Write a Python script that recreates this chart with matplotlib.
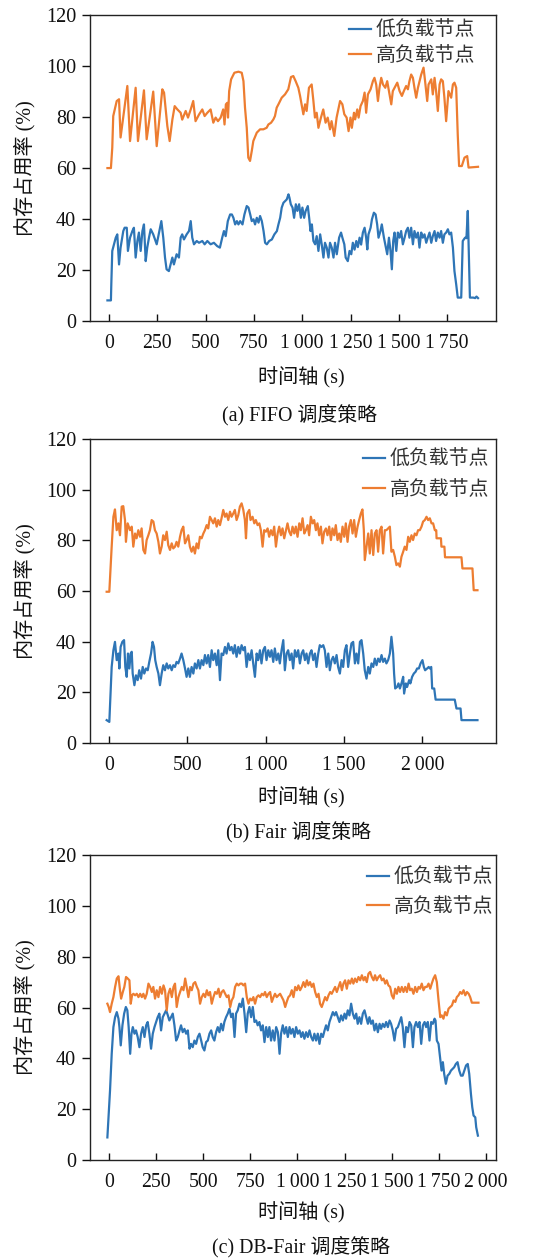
import matplotlib
matplotlib.use('Agg')
import matplotlib.pyplot as plt
from matplotlib.font_manager import FontProperties

plt.rcParams['font.family'] = ['Liberation Serif', 'Noto Sans CJK SC', 'DejaVu Sans']

BLUE = '#2E75B6'
ORANGE = '#ED7D31'

legend_labels = ['低负载节点', '高负载节点']
y_ticks = [0, 20, 40, 60, 80, 100, 120]
ylabel_text = '内存占用率 (%)'
xlabel_text = '时间轴 (s)'
captions = ['(a) FIFO 调度策略', '(b) Fair 调度策略', '(c) DB-Fair 调度策略']

xticks_a = [0, 250, 500, 750, 1000, 1250, 1500, 1750]
xticklabels_a = ['0', '250', '500', '750', '1\u2009000', '1\u2009250', '1\u2009500', '1\u2009750']
xticks_b = [0, 500, 1000, 1500, 2000]
xticklabels_b = ['0', '500', '1\u2009000', '1\u2009500', '2\u2009000']
xticks_c = [0, 250, 500, 750, 1000, 1250, 1500, 1750, 2000]
xticklabels_c = ['0', '250', '500', '750', '1\u2009000', '1\u2009250', '1\u2009500', '1\u2009750', '2\u2009000']

# ---------------- (a) FIFO ----------------
fifo_high = [(-8,60),(10,60),(17,68),(22,80.4),(40,86.3),(52,87),(60,72),(95,92.2),(109,70.6),(138,91.5),
 (150,70.6),(181,90.5),(195,71.3),(229,90),(247,68.6),(276,90.9),(285,89.6),(302,76.5),(314,70.6),(328,79),
 (340,84.3),(354,83),(371,81.7),(379,79),(397,82.4),(409,79.8),(423,83),(436,86.3),(448,78.4),(466,81),
 (483,83),(495,80.4),(509,81.7),(526,83),(540,77.8),(552,79.8),(564,78.4),(578,79.8),(591,83),(598,77.1),
 (605,85),(612,85.6),(616,79.8),(622,90.2),(632,94.8),(649,97.4),(670,97.8),(687,97.4),(696,94.1),(704,83.7),
 (713,75.8),(721,64.1),(730,62.8),(739,66.7),(747,70.6),(765,73.9),(782,75.2),(799,75.2),(816,75.8),(825,77.1),
 (839,77.8),(851,79.1),(859,80.4),(868,83.7),(877,85),(894,87.6),(911,88.9),(928,90.9),(942,95.7),(954,96.1),
 (966,94.1),(980,91.5),(989,88.3),(997,85),(1006,81.1),(1015,85),(1023,82.4),(1035,91.5),(1049,92.8),(1058,86.3),
 (1066,79.8),(1075,81.7),(1084,75.8),(1097,79.8),(1109,83),(1121,77.8),(1132,79.8),(1144,75.2),(1152,78.4),(1166,72.6),
 (1178,79.8),(1196,86.3),(1208,85),(1218,81.1),(1230,79.8),(1240,74.5),(1250,79.8),(1257,75.8),(1268,81.7),(1274,79.1),
 (1285,83),(1292,79.8),(1302,84.3),(1314,86.3),(1323,89.6),(1331,81.7),(1340,88.9),(1354,90.9),(1366,94.1),(1374,95.4),
 (1383,92.8),(1392,86.3),(1400,91.5),(1409,95.4),(1418,92.8),(1430,91.5),(1440,94.1),(1452,88.9),(1461,85),(1469,90.2),
 (1478,91.5),(1492,93.5),(1504,90.2),(1516,88.3),(1526,90.2),(1538,92.2),(1547,90.9),(1555,94.1),(1564,96.7),(1573,95.4),
 (1581,91.5),(1590,87.6),(1599,91.5),(1616,96.7),(1628,99.4),(1636,94.1),(1647,86.3),(1654,92.8),(1668,94.8),(1676,88.9),
 (1685,95.4),(1693,90.2),(1702,82.4),(1711,92.8),(1719,94.8),(1728,94.1),(1736,87.6),(1745,78.4),(1757,90.2),(1771,87.6),
 (1780,92.8),(1788,93.5),(1797,91.5),(1805,73.2),(1812,60.8),(1826,60.8),(1840,64.1),(1854,64.7),(1861,60.2),(1910,60.5)]

fifo_low = [(-8,8.1),(10,8.1),(12,14.4),(17,27.5),(26,30.1),(35,32.7),(43,34),(52,22.2),(60,28.8),(74,35.3),
 (81,36.6),(92,36.6),(98,27.5),(109,32.7),(121,35.3),(129,36.6),(138,24.9),(147,31.4),(155,34.7),(164,27.5),
 (173,35.3),(181,37.9),(190,23.5),(198,28.8),(207,32.7),(216,36),(229,34),(238,32),(247,30.1),(259,34.7),
 (271,39.2),(281,32.7),(290,24.9),(298,20.3),(310,19.6),(319,22.2),(328,24.9),(336,22.2),(350,26.2),(362,24.9),
 (371,32.7),(379,34),(388,32),(402,34),(414,35.3),(423,39.2),(431,32.7),(440,30.1),(454,31.4),(466,30.7),
 (483,31.4),(495,30.1),(509,31.4),(526,30.1),(543,30.7),(560,29.4),(574,28.8),(586,32.7),(595,35.3),(604,33.3),
 (615,39.2),(627,41.8),(636,41.8),(644,40.5),(653,37.9),(662,39.2),(670,37.9),(679,39.2),(691,37.9),(701,41.8),
 (713,45.1),(722,44.5),(731,41.8),(739,39.2),(748,39.9),(756,37.9),(765,40.5),(774,38.6),(782,41.2),(791,39.2),
 (800,35.3),(808,30.7),(817,30.1),(829,31.4),(843,32),(856,34),(869,35.3),(877,37.9),(886,40.5),(894,44.5),
 (903,46.4),(912,47.1),(920,47.7),(929,49.7),(934,48.4),(941,45.8),(950,44.5),(958,40.5),(967,45.8),(975,43.2),
 (984,45.8),(993,40.5),(1001,44.5),(1010,40.5),(1018,43.2),(1029,45.1),(1036,40.5),(1043,35.3),(1050,37.9),(1058,31.4),
 (1067,30.1),(1075,33.3),(1084,27.5),(1093,34),(1101,30.1),(1110,24.9),(1118,30.7),(1127,28.8),(1136,24.9),(1144,30.7),
 (1153,28.8),(1162,24.9),(1170,30.7),(1179,26.2),(1191,32.7),(1201,34.7),(1208,32.7),(1218,30.1),(1225,24.9),(1236,23.5),
 (1245,27.5),(1254,26.2),(1262,30.7),(1271,28),(1280,31.4),(1288,29),(1297,32.7),(1305,30),(1314,34.7),(1323,36.6),
 (1331,32.7),(1337,28.1),(1343,34),(1354,36.6),(1361,39.9),(1371,42.5),(1380,41.8),(1388,37.9),(1395,32.7),(1405,35.3),
 (1412,37.9),(1423,32.7),(1430,30.1),(1440,26.2),(1449,32.7),(1457,27.5),(1464,20.3),(1471,31.4),(1478,34.7),(1487,27.5),
 (1495,34.7),(1504,32.7),(1512,35.3),(1521,30.1),(1530,32.7),(1538,35.3),(1547,36.6),(1555,32.7),(1564,36.6),(1573,30.1),
 (1581,35.3),(1590,32.7),(1599,34.7),(1607,28.8),(1616,34.7),(1624,32.7),(1633,34),(1642,30.7),(1650,32.7),(1659,34.7),
 (1668,30.7),(1676,33.3),(1685,35.3),(1693,31.4),(1702,34.7),(1711,32.7),(1719,35.3),(1728,30.7),(1736,34),(1745,34.7),
 (1754,36),(1762,34),(1771,34.7),(1780,28.8),(1788,19.6),(1797,14.4),(1805,9.2),(1823,9.2),(1831,31.4),(1843,32.7),
 (1850,32.5),(1857,43.2),(1862,27.5),(1868,9.2),(1885,9.2),(1895,9),(1902,9.6),(1910,9)]

# ---------------- (b) Fair ----------------
fair_high = [(-15,59.7),(2,59.7),(17,77.5),(28,89.3),(38,92.2),(49,84),(60,86.7),(70,82),(81,93.3),(91,93.5),
 (102,88),(108,79.4),(119,86.7),(134,84),(145,85.4),(155,77.5),(166,82.7),(176,80.8),(187,84),(198,81.4),
 (208,84.7),(219,76.2),(230,74.8),(240,80.1),(251,82),(261,84),(272,88),(283,87.4),(293,84),(304,82.7),
 (315,79.4),(325,74.8),(336,77.5),(346,82),(357,80.1),(368,83.4),(378,78.1),(389,76.2),(400,78.8),(410,76.8),
 (421,77.5),(431,79.4),(442,77.5),(453,81.4),(463,84),(474,85.4),(485,78.8),(495,80.1),(506,82),(516,77.5),
 (527,75.5),(538,77.5),(548,74.8),(559,78.8),(570,76.8),(580,81.4),(591,80.8),(602,82.7),(612,84),(623,86),
 (633,84.7),(644,89.3),(655,88),(665,86.7),(676,88.7),(687,85.4),(697,88),(708,86),(718,88.7),(729,92),
 (740,89.3),(750,90.6),(761,88),(772,91.3),(782,89.3),(793,90.6),(803,92),(814,88),(825,90),(835,93.3),
 (846,94.6),(857,92),(867,88),(874,80.8),(882,90.6),(895,92),(903,88),(916,89.3),(927,86.7),(937,88),
 (948,86),(959,86.7),(969,84),(980,77.5),(990,84),(1001,83.4),(1012,84.7),(1022,81.4),(1033,84),(1044,82),
 (1054,85.4),(1065,77.5),(1076,82.7),(1086,85.4),(1097,82),(1107,84.7),(1118,80.8),(1129,84),(1139,86.7),(1150,83.4),
 (1161,82),(1171,85.4),(1182,82.7),(1192,85.4),(1203,81.4),(1214,86.7),(1224,84),(1235,88.7),(1246,82.7),(1256,84),
 (1267,86),(1277,82),(1288,89.3),(1299,86.7),(1309,88),(1320,84),(1330,86.7),(1341,82),(1352,85.4),(1362,78.8),
 (1373,83.4),(1384,84.7),(1394,82),(1405,85.4),(1416,80.1),(1426,84.7),(1437,82),(1447,86),(1458,80.1),(1469,82.7),
 (1479,79.4),(1490,85.4),(1501,81.4),(1511,86.7),(1522,79.4),(1532,85.4),(1543,88),(1554,82.7),(1564,88),(1575,81.4),
 (1586,85.4),(1596,88),(1607,90.6),(1617,92.2),(1626,84),(1632,72.2),(1643,77.5),(1654,82.7),(1664,74.8),(1675,84),
 (1686,74.2),(1696,82.7),(1707,84),(1717,75.5),(1728,84),(1739,85.4),(1749,74.8),(1760,84),(1770,84),(1781,84.7),
 (1792,85.4),(1802,75.5),(1813,76.2),(1824,73.5),(1834,70.2),(1845,70.9),(1856,69.6),(1866,73.5),(1877,75.5),(1887,77.5),
 (1898,76.2),(1909,81.4),(1919,79.4),(1930,82),(1940,80.1),(1951,82.7),(1962,82),(1972,84),(1983,84),(1994,85.4),
 (2004,87.4),(2015,88),(2026,89.3),(2036,88),(2047,88.7),(2058,86.7),(2068,86.7),(2079,84),(2088,84),(2090,80.8),
 (2118,80.8),(2121,77.5),(2140,77.5),(2144,73.3),(2249,73.3),(2255,68.9),(2319,68.9),(2327,60.3),(2351,60.3)]

fair_low = [(-15,9),(2,8.3),(17,30),(28,36.6),(38,39.9),(49,32.7),(60,35.3),(66,29.4),(74,37.9),(85,39.9),
 (96,40.6),(104,30),(113,26.1),(121,35.3),(130,29.4),(138,35.3),(145,36),(151,27.4),(162,22.8),(172,26.7),
 (183,24.8),(193,28.7),(204,25.4),(215,30),(225,27.4),(236,29.4),(247,28.7),(257,32),(268,35.3),(278,39.9),
 (287,37.9),(295,32.7),(304,30),(315,27.4),(325,22.8),(336,27.4),(346,30.7),(357,28.7),(368,31.4),(378,29.4),
 (389,30.7),(400,28.7),(410,30.7),(421,30),(431,32),(442,31.4),(453,33.3),(463,35.3),(474,32.7),(485,29.4),
 (495,26.1),(506,29.4),(516,26.1),(527,30),(538,27.4),(548,31.4),(559,29.4),(570,32.7),(580,29.4),(591,32.7),
 (602,30.7),(612,34.7),(623,31.4),(633,34.7),(644,30),(655,36.6),(665,32.7),(676,35.3),(687,30.7),(697,36.6),
 (708,24.8),(718,35.3),(729,34.7),(740,37.9),(750,35.3),(761,39.3),(772,36.6),(782,37.9),(793,35.3),(803,38.6),
 (814,34),(825,37.9),(835,35.3),(846,38.6),(857,36.6),(867,37.9),(878,30),(888,35.3),(899,32.7),(910,36.6),
 (920,31.4),(931,26.1),(942,35.3),(952,32.7),(963,36.6),(973,31.4),(984,36.6),(995,37.9),(1005,32.7),(1016,36.6),
 (1027,34),(1037,36.6),(1048,32),(1058,37.3),(1069,32.7),(1080,35.3),(1090,31.4),(1101,36.6),(1112,40.6),(1122,28.7),
 (1133,35.3),(1143,36.6),(1154,32.7),(1165,35.3),(1175,29.4),(1186,36.6),(1197,34),(1207,36.6),(1218,31.4),(1229,35.3),
 (1239,36.6),(1250,32.7),(1260,35.3),(1271,31.4),(1282,35.3),(1292,36.6),(1303,32.7),(1314,35.3),(1324,30),(1335,35.3),
 (1345,38.6),(1356,37.9),(1367,38.6),(1377,36.6),(1388,30),(1399,35.3),(1409,28.7),(1420,32.7),(1430,34),(1441,31.4),
 (1452,34.7),(1462,30),(1473,27.4),(1484,32.7),(1494,30),(1505,36.6),(1515,38.6),(1526,30),(1537,35.3),(1547,39.3),
 (1558,39.9),(1569,31.4),(1579,35.3),(1590,31.4),(1601,39.9),(1611,40.6),(1622,35.3),(1632,28.7),(1643,25.4),(1654,30),
 (1664,27.4),(1675,31.4),(1686,30),(1696,33.3),(1707,30.7),(1717,33.3),(1728,32),(1739,34.7),(1749,32),(1760,33.3),
 (1770,31.4),(1781,32.7),(1792,35.3),(1802,41.9),(1813,35.3),(1819,27.4),(1826,21.5),(1838,22.1),(1847,23.5),(1856,21.5),
 (1866,23.5),(1877,26.1),(1883,19.5),(1894,23.5),(1902,22.1),(1915,24.8),(1923,23.5),(1934,26.1),(1945,27.4),(1956,28.1),
 (1966,29.4),(1977,29.4),(1988,31.4),(2000,32.7),(2009,30),(2017,28.7),(2030,29.4),(2040,30),(2047,29.4),(2056,30),
 (2062,21.5),(2075,21.5),(2084,17.1),(2206,17.1),(2217,13.6),(2243,13.6),(2249,9),(2351,9)]

# ---------------- (c) DB-Fair ----------------
dbfair_high = [(-9,61.5),(-2,60.2),(5,58.2),(14,61.5),(23,64.1),(32,68.1),(41,71.4),(50,72.3),(58,66.8),(64,63.5),
 (73,66.1),(81,68.1),(90,72),(99,71.4),(108,70.7),(115,61.5),(122,64.8),(129,65.4),(138,64.8),(147,65.4),
 (156,64.1),(165,65.4),(174,64.1),(182,65.4),(191,63.5),(200,65.4),(209,69.4),(218,68.1),(227,66.1),(235,68.1),
 (244,63.5),(253,66.8),(262,64.1),(271,68.1),(280,65.4),(289,68.7),(297,66.8),(306,58.9),(315,65.4),(324,67.4),
 (333,64.1),(342,68.1),(350,69.4),(359,60.2),(368,64.1),(377,66.1),(386,68.1),(395,66.8),(404,71.4),(412,68.1),
 (421,64.1),(430,68.1),(439,66.8),(448,69.4),(457,70),(466,68.1),(474,66.8),(483,61.5),(492,64.1),(501,65.4),
 (510,64.1),(519,66.8),(527,64.8),(536,66.1),(545,61.5),(554,64.1),(563,66.1),(572,65.4),(581,67.4),(589,64.1),
 (598,66.1),(607,66.8),(616,65.4),(625,64.1),(634,64.8),(643,60.2),(651,62.8),(660,64.1),(669,68.1),(678,69.4),
 (687,68.7),(696,69.4),(705,69.4),(713,68.7),(722,69.4),(731,64.1),(740,61.5),(749,63.5),(758,62.8),(766,64.1),
 (775,61.5),(784,64.1),(793,64.8),(802,64.1),(811,65.4),(820,64.8),(828,66.1),(837,64.1),(846,65.4),(855,66.1),
 (864,62.2),(873,64.1),(881,65.4),(890,64.1),(899,64.8),(908,65.4),(917,64.1),(926,62.8),(935,60.2),(943,62.2),
 (952,64.1),(961,64.8),(970,66.8),(979,64.1),(988,68.1),(997,66.8),(1005,68.7),(1014,66.8),(1023,68.1),(1032,70),
 (1041,68.1),(1050,70.7),(1058,68.7),(1067,70),(1076,68.1),(1085,69.4),(1094,66.1),(1103,64.1),(1112,65.4),(1120,61.5),
 (1129,60.2),(1138,62.2),(1147,64.1),(1156,62.8),(1165,64.8),(1174,66.1),(1182,65.4),(1191,66.8),(1200,68.1),(1209,66.1),
 (1218,68.1),(1227,70),(1236,66.8),(1244,69.4),(1253,70.7),(1262,67.4),(1271,70.7),(1280,69.4),(1289,71.4),(1297,69.4),
 (1306,71.4),(1315,70),(1324,72),(1333,70.7),(1342,72.7),(1351,70.7),(1359,72),(1368,70),(1377,73.3),(1386,74),
 (1395,72),(1404,70.7),(1412,72.7),(1421,70.7),(1430,72),(1439,72.7),(1448,70.7),(1457,71.4),(1466,69.4),(1474,70.7),
 (1483,68.7),(1492,68.1),(1501,64.8),(1510,63.5),(1519,67.4),(1528,65.4),(1536,68.1),(1545,66.1),(1554,68.1),(1563,66.1),
 (1572,68.1),(1581,66.1),(1590,69.4),(1598,66.8),(1607,67.4),(1616,65.4),(1625,68.1),(1634,66.1),(1643,68.1),(1651,67.4),
 (1660,69.4),(1669,66.8),(1678,68.1),(1687,68.1),(1696,69.4),(1705,67.4),(1713,69.4),(1722,71.4),(1731,72.7),(1740,70),
 (1749,62.8),(1758,56.2),(1766,56.9),(1775,55.6),(1784,58.2),(1793,56.9),(1802,59.5),(1811,60.2),(1820,60.8),(1829,62.8),
 (1838,62.2),(1846,64.1),(1855,64.8),(1864,66.1),(1873,65.4),(1882,66.8),(1891,64.8),(1900,66.1),(1909,65.4),(1917,64.1),
 (1926,61.9),(1961,61.9)]

dbfair_low = [(-9,8.9),(5,27.3),(14,41.8),(23,52.3),(32,56.2),(41,58.2),(50,55.6),(55,52.3),(62,45.1),(71,53),
 (80,57.6),(89,60.2),(97,58.9),(104,52.3),(112,41.8),(119,49.7),(126,52.3),(135,49.7),(143,51),(152,48.4),
 (161,44.4),(170,49.7),(179,52.3),(188,48.4),(197,53),(205,54.3),(214,49.7),(223,43.8),(232,49.7),(241,52.3),
 (250,54.3),(258,56.2),(267,57.6),(276,51),(285,56.2),(294,57.6),(303,58.9),(312,56.9),(320,54.9),(329,56.2),
 (338,57.6),(347,53),(356,47),(365,48.4),(374,51),(382,53),(391,50.3),(400,51.6),(409,49.7),(418,51),
 (427,43.8),(435,45.7),(444,44.4),(453,47),(462,45.7),(471,48.4),(480,49.7),(489,47),(497,44.4),(506,43.1),
 (515,46.4),(524,47),(533,49.7),(542,51),(550,48.4),(559,47),(568,50.3),(577,52.3),(586,50.3),(595,53.6),
 (604,51),(612,54.3),(621,56.2),(630,57.6),(639,59.5),(648,56.2),(657,57.6),(666,48.4),(674,57.6),(683,58.9),
 (692,61.5),(701,60.2),(710,63.5),(719,57.6),(728,50.3),(736,57.6),(745,60.2),(754,56.2),(763,60.2),(772,54.3),
 (781,54.9),(789,53),(798,54.3),(807,51),(816,53),(825,46.4),(834,52.3),(843,48.4),(851,52.3),(860,47),
 (869,51),(878,47),(887,52.3),(896,50.3),(905,41.8),(913,49.7),(922,53),(931,49.7),(940,52.3),(949,48.4),
 (958,52.3),(966,49.7),(975,51.6),(984,48.4),(993,52.3),(1002,49.7),(1011,51),(1020,48.4),(1028,50.3),(1037,47.7),
 (1046,50.3),(1055,48.4),(1064,51),(1073,48.4),(1082,47),(1090,49.7),(1099,47),(1108,49.7),(1117,45.7),(1126,49.7),
 (1135,48.4),(1144,51),(1152,53),(1161,51),(1170,54.3),(1179,56.2),(1188,58.2),(1197,56.9),(1205,58.2),(1214,56.2),
 (1223,54.3),(1232,56.9),(1241,54.9),(1250,57.6),(1258,55.6),(1267,58.9),(1276,56.9),(1285,61.5),(1294,57.6),(1303,55.6),
 (1312,57.6),(1320,53.6),(1329,56.2),(1338,53.6),(1347,57.6),(1356,58.9),(1365,56.2),(1374,53.6),(1382,56.2),(1391,53.6),
 (1400,54.9),(1409,51),(1418,53.6),(1427,50.3),(1436,53.6),(1444,51.6),(1453,53.6),(1462,52.3),(1471,54.3),(1480,52.3),
 (1489,54.9),(1497,53.6),(1506,51),(1515,47),(1524,51.6),(1533,52.3),(1542,54.3),(1551,56.2),(1559,52.3),(1568,44.4),
 (1577,52.3),(1586,50.3),(1595,54.3),(1604,53),(1613,44.4),(1621,52.3),(1630,54.3),(1639,52.3),(1648,54.3),(1657,45.7),
 (1666,53),(1675,54.3),(1683,52.3),(1692,54.3),(1701,47),(1710,54.3),(1719,53.6),(1728,55.6),(1733,54.9),(1740,47),
 (1749,45.7),(1758,39.8),(1765,35.2),(1772,38.5),(1779,33.9),(1788,30),(1797,33.2),(1806,33.9),(1815,35.2),(1824,35.9),
 (1832,36.5),(1841,37.8),(1850,38.5),(1859,35.2),(1868,33.2),(1877,33.2),(1886,35.2),(1895,37.2),(1904,37.8),(1912,33.9),
 (1921,26),(1928,20.8),(1935,17.5),(1944,16.8),(1949,12.9),(1958,9.6)]

panels = [
    dict(rect=[0.168, 0.745, 0.757, 0.243], xlim=(-98, 2002), xt=xticks_a, xtl=xticklabels_a,
         low=fifo_low, high=fifo_high, leg=(0.948, 0.983), lspace=0.18,
         ylab_y=168, xlab_y=378, cap=(299.5, 415)),
    dict(rect=[0.168, 0.4099, 0.757, 0.2414], xlim=(-121, 2468), xt=xticks_b, xtl=xticklabels_b,
         low=fair_low, high=fair_high, leg=(0.983, 0.968), lspace=0.47,
         ylab_y=591, xlab_y=798, cap=(298, 832)),
    dict(rect=[0.168, 0.0786, 0.757, 0.2423], xlim=(-101, 2053), xt=xticks_c, xtl=xticklabels_c,
         low=dbfair_low, high=dbfair_high, leg=(0.993, 0.962), lspace=0.43,
         ylab_y=1007, xlab_y=1213, cap=(301.5, 1247)),
]

W, H = 536, 1259
fig = plt.figure(figsize=(W / 100, H / 100), dpi=100)
TXT = '#111111'
cjk_prop = FontProperties(family=['Noto Sans CJK SC', 'DejaVu Sans'], size=14.3)

for i, p in enumerate(panels):
    ax = fig.add_axes(p['rect'])
    tl, vl = zip(*p['low'])
    th, vh = zip(*p['high'])
    ax.plot(tl, vl, color=BLUE, lw=1.6, label=legend_labels[0])
    ax.plot(th, vh, color=ORANGE, lw=1.6, label=legend_labels[1])
    ax.set_xlim(*p['xlim'])
    ax.set_ylim(0, 120)
    ax.set_xticks(p['xt'])
    ax.set_xticklabels(p['xtl'], fontfamily=['Liberation Serif', 'DejaVu Serif'])
    ax.set_yticks(y_ticks)
    ax.tick_params(axis='x', direction='in', length=5, width=1, pad=9.5, labelsize=14.2, colors=TXT)
    ax.tick_params(axis='y', direction='out', length=6, width=1, pad=4, labelsize=14.5, colors=TXT)
    for s in ax.spines.values():
        s.set_linewidth(1.0)
        s.set_color('#222222')
    leg = ax.legend(loc='upper right', bbox_to_anchor=p['leg'], frameon=False, prop=cjk_prop,
                    handlelength=1.1, handletextpad=0.22, borderaxespad=0, borderpad=0,
                    labelspacing=p['lspace'])
    for t in leg.get_texts():
        t.set_color('#333333')
    fig.text(25 / W, 1 - p['ylab_y'] / H, ylabel_text, rotation=90, ha='center', va='center',
             fontsize=14.5, color=TXT)
    fig.text(301 / W, 1 - p['xlab_y'] / H, xlabel_text, ha='center', va='center',
             fontsize=14.5, color=TXT)
    fig.text(p['cap'][0] / W, 1 - p['cap'][1] / H, captions[i], ha='center', va='center',
             fontsize=14.3, color=TXT)

fig.savefig('out.png', dpi=100)
